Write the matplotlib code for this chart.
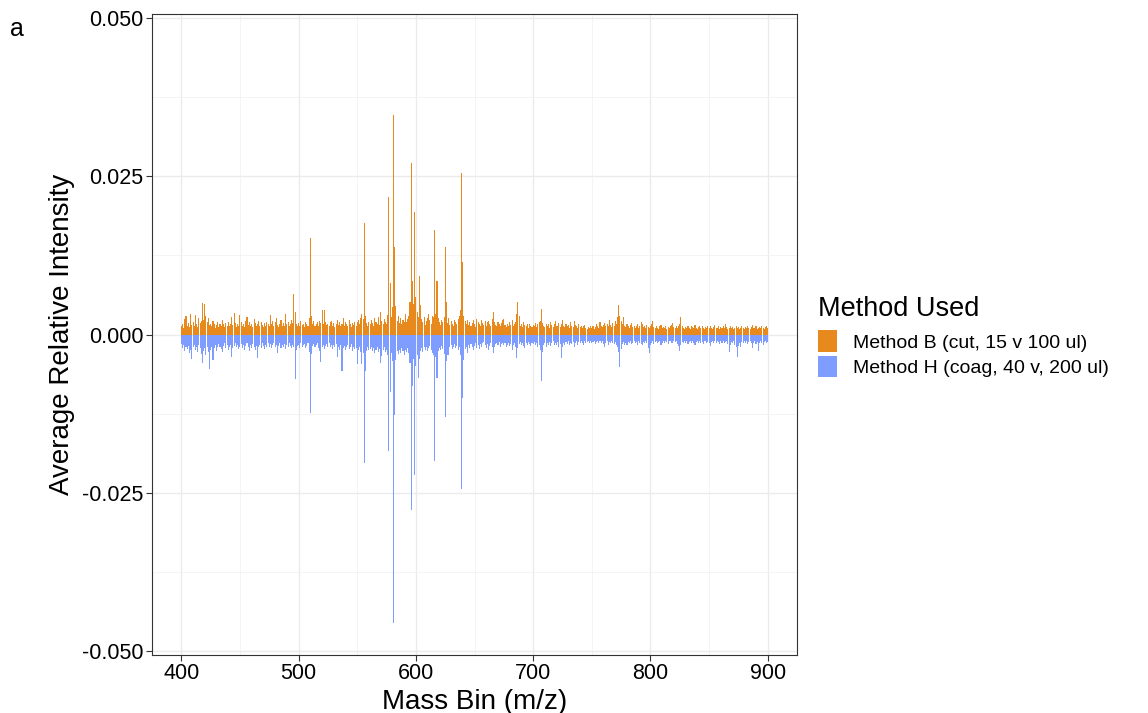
import numpy as np
import matplotlib
matplotlib.use("Agg")
import matplotlib.pyplot as plt
from matplotlib.patches import Patch

plt.rcParams['font.family'] = ['Liberation Sans', 'DejaVu Sans']

# mass bins 400..900 (m/z), intensities in units of 1e-5
mass_bins = np.arange(400, 901)

method_b = np.array([
    130, 160, 110, 250, 300, 140, 180, 120, 330, 150, 200, 140, 310, 170, 120, 260, 180, 210, 500, 230, 480, 300, 190, 260, 150,
    170, 130, 220, 160, 110, 150, 190, 120, 170, 140, 230, 160, 120, 180, 140, 200, 130, 160, 270, 150, 340, 180, 120, 170, 140,
    310, 190, 130, 160, 120, 210, 280, 150, 200, 130, 170, 120, 240, 180, 140, 160, 220, 130, 190, 150, 120, 180, 140, 200, 160,
    130, 310, 170, 220, 140, 190, 260, 150, 120, 170, 230, 140, 180, 130, 330, 160, 200, 140, 170, 230, 180, 640, 350, 160, 140,
    180, 130, 220, 150, 170, 120, 190, 160, 140, 260, 1530, 290, 170, 210, 130, 160, 190, 140, 220, 180, 390, 160, 390, 200, 150,
    170, 130, 190, 210, 140, 180, 120, 160, 230, 150, 190, 140, 170, 260, 130, 200, 160, 140, 230, 170, 120, 180, 150, 200, 140,
    190, 230, 170, 260, 330, 250, 1770, 300, 180, 140, 200, 160, 230, 180, 140, 260, 200, 170, 280, 150, 350, 220, 170, 250, 190,
    160, 310, 2170, 810, 280, 430, 3470, 1380, 450, 220, 300, 180, 260, 170, 230, 200, 320, 190, 250, 300, 520, 2720, 850, 480, 1940,
    600, 350, 280, 930, 470, 240, 190, 270, 150, 220, 260, 330, 230, 170, 300, 280, 1650, 330, 840, 260, 200, 150, 230, 190, 280,
    1380, 510, 180, 260, 150, 210, 170, 140, 230, 190, 160, 240, 300, 380, 2560, 1140, 290, 210, 170, 230, 150, 200, 140, 180, 230,
    160, 120, 250, 190, 170, 140, 230, 180, 150, 210, 130, 190, 220, 160, 140, 250, 360, 200, 150, 130, 190, 160, 140, 180, 230,
    240, 150, 120, 170, 140, 190, 150, 230, 130, 160, 190, 320, 510, 290, 140, 170, 120, 200, 150, 130, 170, 110, 160, 140, 120,
    150, 130, 180, 120, 160, 190, 220, 410, 180, 140, 120, 160, 130, 170, 110, 190, 150, 120, 160, 210, 130, 140, 180, 120, 160,
    230, 140, 120, 170, 130, 150, 110, 190, 140, 120, 210, 150, 130, 110, 160, 120, 140, 100, 130, 150, 110, 90, 120, 100, 130,
    110, 140, 90, 120, 160, 130, 110, 190, 140, 120, 150, 180, 130, 170, 140, 230, 150, 120, 180, 140, 210, 160, 280, 470, 300,
    220, 160, 270, 140, 120, 160, 130, 110, 150, 180, 120, 140, 100, 130, 160, 110, 140, 190, 170, 120, 130, 100, 150, 120, 110,
    130, 160, 210, 120, 100, 140, 110, 90, 130, 150, 110, 120, 100, 140, 90, 120, 110, 130, 150, 180, 120, 100, 140, 110, 130,
    160, 270, 130, 110, 90, 120, 100, 140, 110, 90, 130, 120, 100, 150, 110, 90, 120, 140, 100, 130, 110, 90, 120, 100, 140,
    110, 130, 100, 90, 120, 150, 110, 100, 130, 90, 120, 110, 140, 100, 160, 120, 90, 110, 130, 100, 120, 90, 110, 140, 100,
    120, 90, 110, 130, 100, 90, 120, 110, 140, 100, 90, 120, 150, 110, 100, 130, 90, 110, 120, 100, 140, 110, 90, 120, 130,
    100,
]) * 1e-5

method_h = np.array([
    150, 210, 170, 260, 190, 230, 180, 300, 250, 390, 200, 170, 240, 190, 280, 160, 220, 310, 450, 260, 210, 330, 190, 280, 550,
    240, 190, 410, 220, 170, 260, 200, 150, 190, 230, 270, 180, 140, 210, 170, 250, 190, 160, 360, 220, 180, 140, 200, 170, 230,
    190, 150, 210, 170, 240, 180, 140, 200, 260, 170, 220, 150, 190, 240, 180, 370, 200, 160, 210, 140, 180, 230, 160, 200, 140,
    190, 150, 220, 170, 140, 200, 160, 300, 180, 140, 210, 160, 190, 150, 230, 170, 200, 140, 180, 220, 160, 200, 710, 250, 180,
    160, 210, 140, 190, 170, 150, 220, 180, 140, 270, 1240, 310, 180, 150, 200, 170, 140, 210, 260, 440, 190, 160, 230, 180, 150,
    190, 140, 200, 170, 230, 160, 200, 150, 360, 190, 240, 170, 580, 220, 180, 250, 190, 160, 230, 200, 150, 260, 190, 230, 210,
    470, 240, 200, 280, 470, 300, 2040, 580, 260, 200, 240, 230, 190, 260, 210, 300, 240, 200, 270, 230, 450, 340, 250, 200, 280,
    240, 330, 1840, 910, 300, 420, 4560, 1280, 400, 260, 310, 240, 300, 220, 260, 330, 240, 280, 220, 300, 450, 2780, 820, 390, 2220,
    500, 330, 690, 380, 260, 210, 280, 190, 240, 200, 260, 220, 180, 240, 290, 330, 2000, 360, 690, 260, 210, 240, 180, 230, 310,
    1300, 420, 320, 320, 200, 170, 230, 190, 150, 210, 180, 240, 200, 330, 2440, 1000, 400, 230, 190, 300, 170, 220, 150, 190, 240,
    180, 140, 210, 170, 230, 150, 190, 140, 120, 170, 210, 150, 250, 180, 140, 200, 300, 200, 150, 130, 170, 120, 190, 150, 130,
    170, 140, 200, 160, 130, 180, 150, 240, 170, 130, 190, 370, 220, 150, 120, 170, 140, 180, 210, 130, 160, 120, 150, 180, 130,
    150, 120, 170, 140, 190, 160, 250, 730, 280, 170, 140, 190, 130, 160, 120, 180, 140, 110, 160, 130, 170, 120, 190, 150, 370,
    190, 130, 160, 120, 150, 110, 170, 130, 150, 120, 200, 140, 110, 160, 120, 140, 100, 130, 160, 110, 140, 120, 100, 130, 110,
    140, 120, 100, 150, 120, 110, 140, 100, 130, 110, 150, 200, 130, 110, 160, 120, 140, 100, 130, 150, 120, 170, 190, 280, 510,
    230, 150, 120, 160, 130, 170, 120, 140, 110, 150, 130, 100, 140, 120, 160, 110, 130, 150, 170, 120, 140, 110, 130, 220, 300,
    160, 130, 110, 150, 120, 100, 140, 120, 110, 160, 130, 100, 140, 110, 120, 150, 110, 100, 130, 140, 110, 120, 100, 150, 180,
    260, 170, 120, 140, 110, 130, 100, 150, 120, 110, 140, 100, 130, 160, 120, 110, 140, 100, 130, 120, 150, 110, 100, 140, 120,
    130, 180, 120, 100, 140, 110, 130, 100, 120, 150, 110, 130, 100, 140, 120, 110, 150, 280, 170, 120, 140, 110, 160, 200, 360,
    180, 130, 200, 120, 140, 110, 130, 100, 150, 120, 110, 140, 220, 130, 110, 150, 120, 260, 140, 110, 130, 170, 120, 100, 140,
    120,
]) * 1e-5

labels = ["Method B (cut, 15 v 100 ul)", "Method H (coag, 40 v, 200 ul)"]
colors = ["#E8891E", "#7F9CFF"]

fig = plt.figure(figsize=(11.48, 7.13), dpi=100)
ax = fig.add_axes([0.1324, 0.0813, 0.5619, 0.8991])

ax.bar(mass_bins, method_b, width=0.9, color=colors[0], linewidth=0, zorder=3)
ax.bar(mass_bins, -method_h, width=0.9, color=colors[1], linewidth=0, zorder=3)

ax.set_xlim(375, 925)
ax.set_ylim(-0.0507, 0.0507)

xt = [400, 500, 600, 700, 800, 900]
yt = [-0.05, -0.025, 0.0, 0.025, 0.05]
ax.set_xticks(xt)
ax.set_xticks([450, 550, 650, 750, 850], minor=True)
ax.set_yticks(yt)
ax.set_yticks([-0.0375, -0.0125, 0.0125, 0.0375], minor=True)
ax.set_yticklabels(["%.3f" % v for v in yt])
ax.set_xticklabels([str(v) for v in xt])
ax.tick_params(axis='both', which='major', labelsize=15.5, colors='#333333',
               labelcolor='black', length=4, width=0.8, pad=2)
ax.tick_params(axis='both', which='minor', length=0)

ax.grid(which='major', color='#EBEBEB', linewidth=1.0, zorder=0)
ax.grid(which='minor', color='#F2F2F2', linewidth=0.6, zorder=0)
ax.set_axisbelow(True)
for s in ax.spines.values():
    s.set_color('#333333')
    s.set_linewidth(0.8)

ax.set_xlabel("Mass Bin (m/z)", fontsize=20, labelpad=3)
ax.set_ylabel("Average Relative Intensity", fontsize=20, labelpad=5)

# legend: title as separate text so the gap to the keys matches
fig.text(818 / 1148, 1 - 316 / 713, "Method Used", fontsize=19.5, va='baseline')
handles = [Patch(facecolor=c, edgecolor='none') for c in colors]
leg = fig.legend(handles, labels, loc='upper left',
                 bbox_to_anchor=(0.697, 1 - 313 / 713), frameon=False, fontsize=14,
                 handlelength=1.0, handleheight=1.3,
                 handletextpad=0.8, labelspacing=0.2)

fig.text(0.009, 0.95, "a", fontsize=18)

fig.savefig("out.png", dpi=100)
